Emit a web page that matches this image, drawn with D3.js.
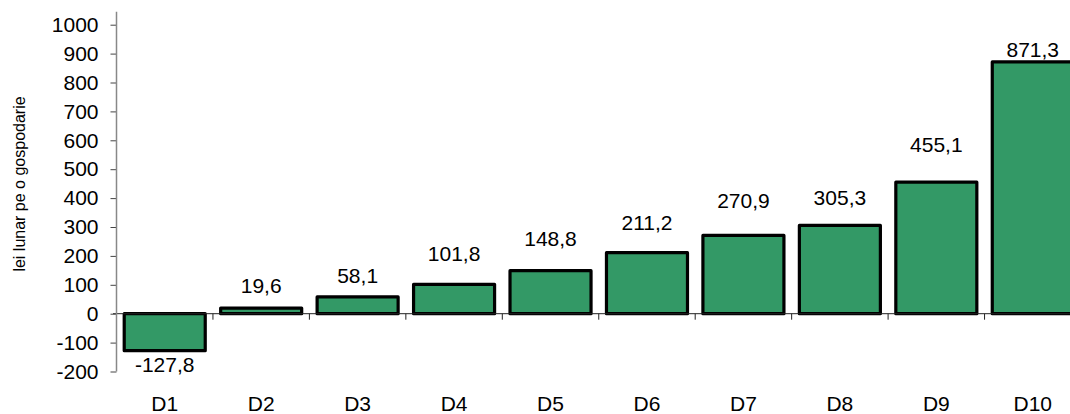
<!DOCTYPE html>
<html>
<head>
<meta charset="utf-8">
<script src="https://cdn.jsdelivr.net/npm/d3@7"></script>
<style>
  html, body { margin: 0; padding: 0; background: #fff; }
  svg { display: block; }
  text { font-family: "Liberation Sans", Arial, sans-serif; fill: #000; }
</style>
</head>
<body>
<svg id="chart" width="1070" height="414"></svg>
<script>
// ---- data ----
const categories = ["D1", "D2", "D3", "D4", "D5", "D6", "D7", "D8", "D9", "D10"];
const values = [-127.8, 19.6, 58.1, 101.8, 148.8, 211.2, 270.9, 305.3, 455.1, 871.3];
const yTicks = [-200, -100, 0, 100, 200, 300, 400, 500, 600, 700, 800, 900, 1000];
const yTitle = "lei lunar pe o gospodarie";

// ---- layout ----
const labelGap = [5, 15, 14, 23, 25, 23, 27, 20, 30, 5];
const W = 1070, H = 414;
const svg = d3.select("#chart");

const x = d3.scaleBand()
  .domain(categories)
  .range([116.5, 1081])
  .paddingInner(0.16)
  .paddingOuter(0.08);

const y = d3.scaleLinear()
  .domain([-200, 1000])
  .range([371.5, 24.7]);

const fmt = v => (v < 0 ? "-" : "") + Math.abs(v).toFixed(1).replace(".", ",");

// bars
svg.append("g").selectAll("rect")
  .data(values)
  .join("rect")
  .attr("x", (d, i) => x(categories[i]))
  .attr("width", x.bandwidth())
  .attr("y", d => y(Math.max(0, d)))
  .attr("height", d => Math.abs(y(d) - y(0)))
  .attr("fill", "#339966")
  .attr("stroke", "#000")
  .attr("stroke-width", 3.2)
  .attr("stroke-linejoin", "round");

// x axis line at zero
const xAxis = svg.append("g").attr("transform", `translate(0,${y(0)})`);
xAxis.append("line")
  .attr("x1", 113).attr("x2", W)
  .attr("stroke", "#222").attr("stroke-width", 1);
const boundaries = categories.map(c => x(c) - x.step() * x.paddingInner() / 2);
xAxis.selectAll("line.tk")
  .data(boundaries)
  .join("line")
  .attr("class", "tk")
  .attr("x1", d => d).attr("x2", d => d)
  .attr("y1", 0).attr("y2", 6)
  .attr("stroke", "#222").attr("stroke-width", 1);

// y axis
const yAxis = d3.axisLeft(y).tickValues(yTicks).tickSize(6).tickPadding(12)
  .tickFormat(d => String(d));
const gy = svg.append("g").attr("transform", "translate(116.5,0)").call(yAxis);
gy.select(".domain").remove();
gy.append("line").attr("y1", y(1045)).attr("y2", y(-200))
  .attr("stroke", "#888").attr("stroke-width", 1.5);
gy.selectAll(".tick line").attr("stroke", "#444");
gy.selectAll(".tick text")
  .attr("font-size", 21)
  .attr("font-family", "Liberation Sans, Arial, sans-serif")
  .attr("fill", "#000");

// category labels
svg.append("g").selectAll("text")
  .data(categories)
  .join("text")
  .attr("x", d => x(d) + x.bandwidth() / 2)
  .attr("y", 411)
  .attr("text-anchor", "middle")
  .attr("font-size", 21)
  .text(d => d);

// value labels
svg.append("g").selectAll("text")
  .data(values)
  .join("text")
  .attr("x", (d, i) => x(categories[i]) + x.bandwidth() / 2)
  .attr("y", (d, i) => d >= 0 ? y(d) - labelGap[i] : y(d) + labelGap[i] + 16)
  .attr("text-anchor", "middle")
  .attr("font-size", 21)
  .text(d => fmt(d));

// y title
svg.append("text")
  .attr("transform", `translate(25,${184}) rotate(-90)`)
  .attr("text-anchor", "middle")
  .attr("font-size", 16)
  .text(yTitle);
</script>
</body>
</html>
